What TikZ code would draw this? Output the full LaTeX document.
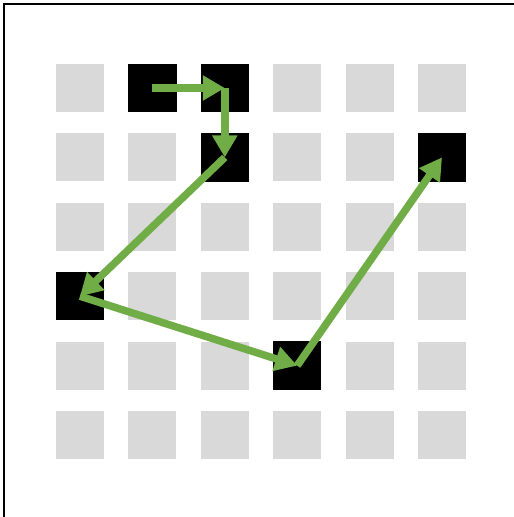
\documentclass[tikz,border=0pt]{standalone}
\usepackage{xcolor}
\usetikzlibrary{arrows.meta}
\definecolor{pathgreen}{HTML}{70AD47}
\definecolor{cellgrey}{HTML}{D9D9D9}

\begin{document}
\begin{tikzpicture}[x=1pt, y=-1pt,
      cell/.style={fill=cellgrey, minimum size=48pt, inner sep=0pt},
      move/.style={-{Triangle[length=22pt, width=24pt]}, line width=7.5pt, draw=pathgreen}]
    \useasboundingbox (0,0) rectangle (514,517);
    \draw[line width=2.5pt] (4,4) rectangle (515.5,517.8);
    % 6 x 6 board of cells
    \foreach \i in {0,...,5} {
      \foreach \j in {0,...,5} {
        \node[cell] (c\i\j) at (80+72.4*\i, 88+69.4*\j) {};
      }
    }
    % visited cells
    \foreach \c in {10,20,21,03,34,51} {
      \fill[black] (c\c.north west) rectangle (c\c.south east);
    }
    % walk over the board
    \draw[move] (c10.center) -- (c20.center);
    \draw[move] (c20.center) -- (c21.center);
    \draw[move] (c21.center) -- (c03.center);
    \draw[move] (c03.center) -- (c34.center);
    \draw[move] (c34.center) -- (c51.center);
  \end{tikzpicture}
\end{document}
